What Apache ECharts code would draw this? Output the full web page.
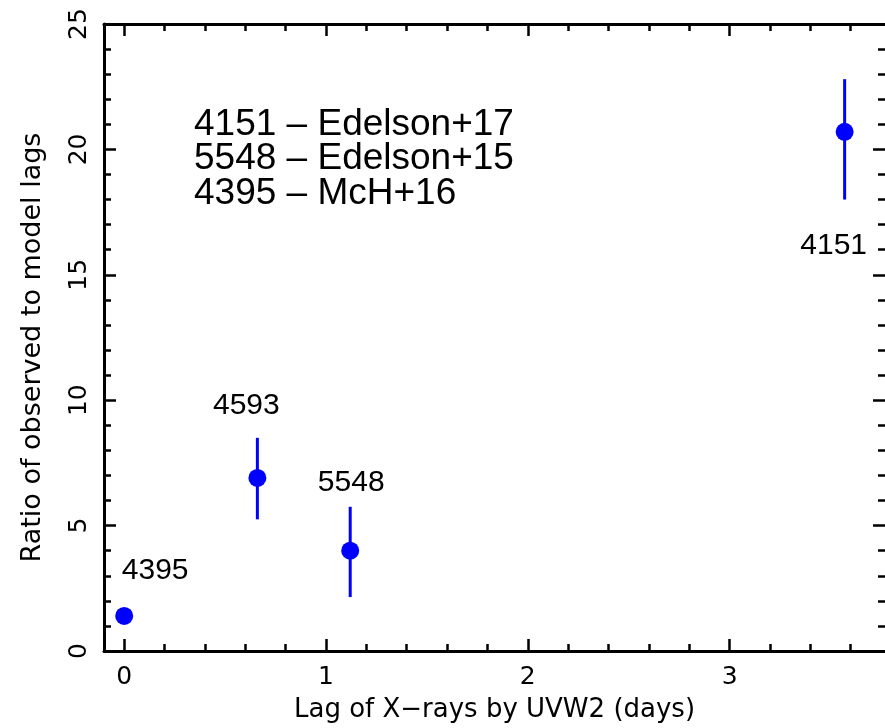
<!DOCTYPE html>
<html>
<head>
<meta charset="utf-8">
<script src="https://cdn.jsdelivr.net/npm/echarts@6/dist/echarts.min.js"></script>
<style>
html,body{margin:0;padding:0;background:#fff;}
#chart{width:885px;height:728px;}
</style>
</head>
<body>
<div id="chart"></div>
<script>
// ---- data ----
const galaxies = ['4395', '4593', '5548', '4151'];
const lags = [0.0, 0.66, 1.12, 3.57];
const ratios = [1.4, 6.9, 4.0, 20.7];
const errLow = [1.3, 5.25, 2.15, 18.0];
const errHigh = [1.5, 8.5, 5.75, 22.8];
const xMajorTicks = [0, 1, 2, 3];
const xMinorTicks = [0.2, 0.4, 0.6, 0.8, 1.2, 1.4, 1.6, 1.8, 2.2, 2.4, 2.6, 2.8, 3.2, 3.4, 3.6];
const references = ['4151 \u2013 Edelson+17', '5548 \u2013 Edelson+15', '4395 \u2013 McH+16'];
const xTitle = 'Lag of X\u2212rays by UVW2 (days)';
const yTitle = 'Ratio of observed to model lags';

// ---- styles ----
const labelOffsets = {'4395': [31, -45], '4593': [-11, -72], '5548': [1, -68], '4151': [-11, 114]};
const tickFont = 'DejaVu Sans';
const black = '#000';
const blue = '#0000ff';

const chart = echarts.init(document.getElementById('chart'), null, {renderer: 'canvas'});

function xAxisDef(pos, values, len, withLine, withLabel) {
  return {
    type: 'value', position: pos, min: -0.1, max: 3.77,
    axisLine: {show: withLine, onZero: false, lineStyle: {color: black, width: 3}},
    axisTick: {show: true, inside: true, length: len, customValues: values, lineStyle: {color: black, width: 2.5}},
    axisLabel: withLabel ? {show: true, customValues: values, margin: 14, color: black, fontFamily: tickFont, fontSize: 25} : {show: false},
    splitLine: {show: false},
    name: withLabel ? xTitle : '',
    nameLocation: 'middle', nameGap: 46,
    nameTextStyle: {color: black, fontFamily: tickFont, fontSize: 26}
  };
}
function yAxisDef(pos, withLabel) {
  return {
    type: 'value', position: pos, min: 0, max: 25, interval: 5,
    axisLine: {show: withLabel, onZero: false, lineStyle: {color: black, width: 3}},
    axisTick: {show: true, inside: true, length: 12, lineStyle: {color: black, width: 2.5}},
    minorTick: {show: true, splitNumber: 5, length: 7, lineStyle: {color: black, width: 2.5}},
    axisLabel: withLabel ? {show: true, rotate: 90, margin: 12, color: black, fontFamily: tickFont, fontSize: 25} : {show: false},
    splitLine: {show: false}, minorSplitLine: {show: false},
    name: withLabel ? yTitle : '',
    nameLocation: 'middle', nameGap: 58,
    nameTextStyle: {color: black, fontFamily: tickFont, fontSize: 27, padding: [0, 20, 0, 0]}
  };
}

const pointData = galaxies.map((g, i) => ({
  name: g, value: [lags[i], ratios[i]],
  label: {offset: labelOffsets[g]}
}));
const errData = galaxies.map((g, i) => [lags[i], errLow[i], errHigh[i]]);

const option = {
  animation: false,
  backgroundColor: '#fff',
  grid: {left: 104, top: 24, width: 784, height: 628, containLabel: false},
  xAxis: [
    xAxisDef('bottom', xMajorTicks, 12, true, true),
    xAxisDef('bottom', xMinorTicks, 7, false, false),
    xAxisDef('top', xMajorTicks, 12, true, false),
    xAxisDef('top', xMinorTicks, 7, false, false)
  ],
  yAxis: [yAxisDef('left', true), yAxisDef('right', false)],
  graphic: [{
    type: 'text', left: 194, top: 106,
    style: {text: references.join('\n'), font: '37px "Liberation Sans"', lineHeight: 34.5, fill: black}
  }],
  series: [
    {
      type: 'custom', xAxisIndex: 0, yAxisIndex: 0,
      renderItem: function (params, api) {
        const x = api.value(0);
        const p1 = api.coord([x, api.value(1)]);
        const p2 = api.coord([x, api.value(2)]);
        return {type: 'line', shape: {x1: p1[0], y1: p1[1], x2: p2[0], y2: p2[1]},
                style: {stroke: blue, lineWidth: 3}};
      },
      data: errData, z: 2
    },
    {
      type: 'scatter', xAxisIndex: 0, yAxisIndex: 0,
      symbol: 'circle', symbolSize: 18,
      itemStyle: {color: blue, opacity: 1},
      label: {show: true, position: 'inside', formatter: '{b}', color: '#000000', opacity: 1,
              fontFamily: 'Liberation Sans', fontSize: 30},
      emphasis: {disabled: true},
      data: pointData, z: 3
    }
  ]
};
chart.setOption(option);
</script>
</body>
</html>
